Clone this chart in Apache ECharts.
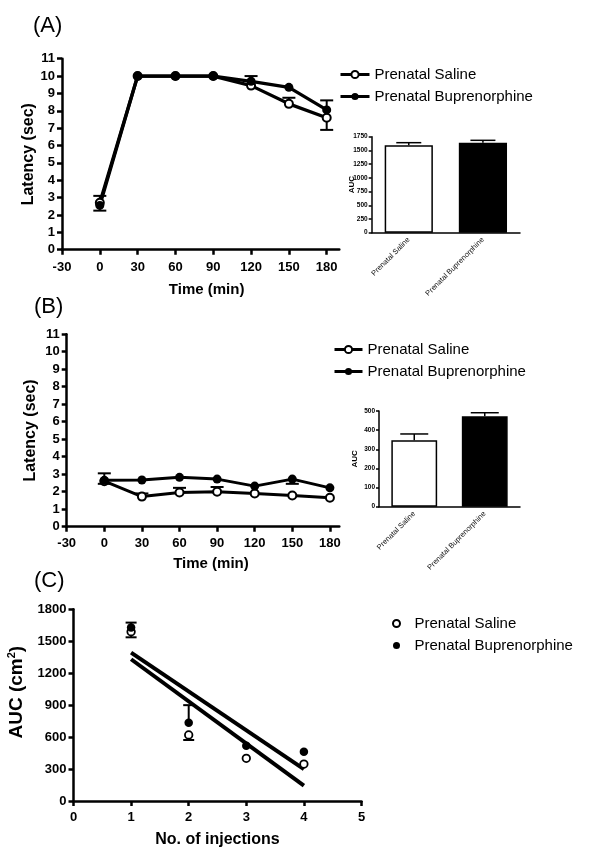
<!DOCTYPE html>
<html><head><meta charset="utf-8">
<script src="https://cdn.jsdelivr.net/npm/echarts@6/dist/echarts.min.js"></script>
<style>html,body{margin:0;padding:0;background:#fff}#c{width:600px;height:857px}</style>
</head><body><div id="c"></div>
<script>
// ---------- data ----------
const seriesNames = ['Prenatal Saline', 'Prenatal Buprenorphine'];
const timePoints = [0, 30, 60, 90, 120, 150, 180];
const timeTicks = [-30, 0, 30, 60, 90, 120, 150, 180];
const aSaline = [2.7, 10, 10, 10, 9.45, 8.4, 7.6];
const aSalineErrEnd = [3.1, null, null, null, null, 8.75, 6.9];
const aBup = [2.55, 10, 10, 10, 9.7, 9.35, 8.05];
const aBupErrEnd = [2.25, null, null, null, 10.0, null, 8.6];
const aucCats = ['Prenatal Saline', 'Prenatal Buprenorphine'];
const aAuc = [1593, 1641];
const aAucErrEnd = [1641, 1684];
const bSaline = [2.6, 1.72, 1.95, 2.0, 1.9, 1.78, 1.65];
const bSalineErrEnd = [3.05, 1.9, 2.22, 2.27, null, null, null];
const bBup = [2.65, 2.67, 2.82, 2.72, 2.32, 2.72, 2.22];
const bBupErrEnd = [2.45, null, null, null, null, 2.45, null];
const bAuc = [347, 472];
const bAucErrEnd = [380, 491];
const injections = [1, 2, 3, 4];
const injTicks = [0, 1, 2, 3, 4, 5];
const cSaline = [1590, 620, 401, 347];
const cSalineErrEnd = [1537, 573, null, null];
const cBup = [1630, 735, 519, 463];
const cBupErrEnd = [1675, 900, null, null];
const fitX = [1, 4];
const cSalineFit = [1331, 145];
const cBupFit = [1393, 300];

// ---------- helpers ----------
const FONT = '"Liberation Sans", Arial, Helvetica, sans-serif';
const plain = v => String(v);
const pairs = (xs, ys) => xs.map((x, i) => [x, ys[i]]);
const errData = (xs, ys, ends) => xs.map((x, i) => ends[i] == null ? null : [x, ys[i], ends[i]]).filter(Boolean);

function errSeries(xi, yi, data, cap, lw) {
  return {
    type: 'custom', xAxisIndex: xi, yAxisIndex: yi, data: data, silent: true, z: 1,
    renderItem: function (params, api) {
      const x = api.value(0), y = api.value(1), e = api.value(2);
      const p0 = api.coord([x, y]), p1 = api.coord([x, e]);
      const st = { stroke: '#000', lineWidth: lw };
      return { type: 'group', children: [
        { type: 'line', shape: { x1: p0[0], y1: p0[1], x2: p1[0], y2: p1[1] }, style: st },
        { type: 'line', shape: { x1: p1[0] - cap, y1: p1[1], x2: p1[0] + cap, y2: p1[1] }, style: st }
      ]};
    }
  };
}

function mainAxisBase(fs) {
  return {
    axisLine: { show: true, onZero: false, lineStyle: { color: '#000', width: 2.5 } },
    axisTick: { show: true, length: 5, lineStyle: { color: '#000', width: 2.5 } },
    splitLine: { show: false },
    axisLabel: { color: '#000', fontFamily: FONT, fontWeight: 'bold', fontSize: fs, formatter: plain },
    nameLocation: 'middle',
    nameMoveOverlap: false,
    nameTextStyle: { color: '#000', fontFamily: FONT, fontWeight: 'bold', fontSize: 16 }
  };
}
function insetAxisBase() {
  return {
    axisLine: { show: true, onZero: false, lineStyle: { color: '#000', width: 1.5 } },
    axisTick: { show: true, length: 3, lineStyle: { color: '#000', width: 1.5 } },
    splitLine: { show: false },
    axisLabel: { color: '#000', fontFamily: FONT, fontWeight: 'bold', fontSize: 6.5, margin: 4, formatter: plain },
    nameLocation: 'middle',
    nameMoveOverlap: false,
    nameTextStyle: { color: '#000', fontFamily: FONT, fontWeight: 'bold', fontSize: 8 }
  };
}

const openCircle = { color: '#fff', borderColor: '#000', borderWidth: 2, opacity: 1 };
const filledCircle = { color: '#000', borderColor: '#000', borderWidth: 0, opacity: 1 };

function lineSeries(name, xi, yi, data, open, lw) {
  return {
    type: 'line', name: name, xAxisIndex: xi, yAxisIndex: yi, data: data,
    symbol: 'circle', symbolSize: open ? 8 : 9, showSymbol: true, z: 3,
    lineStyle: { color: '#000', width: lw },
    itemStyle: open ? openCircle : filledCircle,
    emphasis: { disabled: true }, animation: false
  };
}
function barSeries(xi, yi, vals) {
  return {
    type: 'bar', name: 'auc' + xi, xAxisIndex: xi, yAxisIndex: yi, barWidth: '65%', z: 2,
    data: vals.map((v, i) => ({ value: v, itemStyle: { color: i === 0 ? '#fff' : '#000', borderColor: '#000', borderWidth: 1.5 } })),
    emphasis: { disabled: true }
  };
}

const insetXLabel = { rotate: 45, interval: 0, fontSize: 7.5, fontWeight: 'normal', margin: 6, color: '#111', fontFamily: FONT };

const option = {
  animation: false,
  backgroundColor: '#fff',
  grid: [
    { left: 62, top: 58.7, width: 277.3, height: 191, outerBoundsMode: 'none' },
    { left: 371.7, top: 136.7, width: 148.3, height: 96, outerBoundsMode: 'none' },
    { left: 66.7, top: 334.2, width: 272.6, height: 192.5, outerBoundsMode: 'none' },
    { left: 379, top: 411, width: 141, height: 95.7, outerBoundsMode: 'none' },
    { left: 73.5, top: 609.3, width: 288, height: 191.7, outerBoundsMode: 'none' }
  ],
  xAxis: [
    Object.assign(mainAxisBase(13), { type: 'value', gridIndex: 0, min: -30, max: 190, interval: 30,
      name: 'Time (min)', nameGap: 33,
      axisLabel: Object.assign(mainAxisBase(13).axisLabel, { margin: 11, customValues: timeTicks }),
      axisTick: Object.assign(mainAxisBase(13).axisTick, { customValues: timeTicks }),
      nameTextStyle: Object.assign(mainAxisBase(13).nameTextStyle, { fontSize: 15, padding: [0, 0, 0, 12] }) }),
    Object.assign(insetAxisBase(), { type: 'category', gridIndex: 1, data: aucCats, boundaryGap: true,
      axisLabel: insetXLabel, axisTick: { alignWithLabel: true, length: 3, lineStyle: { color: '#000', width: 1.5 } } }),
    Object.assign(mainAxisBase(13), { type: 'value', gridIndex: 2, min: -30, max: 187.5, interval: 30,
      name: 'Time (min)', nameGap: 30,
      axisLabel: Object.assign(mainAxisBase(13).axisLabel, { margin: 10, customValues: timeTicks }),
      axisTick: Object.assign(mainAxisBase(13).axisTick, { customValues: timeTicks }),
      nameTextStyle: Object.assign(mainAxisBase(13).nameTextStyle, { fontSize: 15, padding: [0, 0, 0, 16] }) }),
    Object.assign(insetAxisBase(), { type: 'category', gridIndex: 3, data: aucCats, boundaryGap: true,
      axisLabel: insetXLabel, axisTick: { alignWithLabel: true, length: 3, lineStyle: { color: '#000', width: 1.5 } } }),
    Object.assign(mainAxisBase(13), { type: 'value', gridIndex: 4, min: 0, max: 5, interval: 1,
      name: 'No. of injections', nameGap: 31,
      axisLabel: Object.assign(mainAxisBase(13).axisLabel, { margin: 10, customValues: injTicks }) })
  ],
  yAxis: [
    Object.assign(mainAxisBase(13), { type: 'value', gridIndex: 0, min: 0, max: 11, interval: 1,
      name: 'Latency (sec)', nameGap: 25,
      axisLabel: Object.assign(mainAxisBase(13).axisLabel, { margin: 7 }) }),
    Object.assign(insetAxisBase(), { type: 'value', gridIndex: 1, min: 0, max: 1750, interval: 250,
      name: 'AUC', nameGap: 16 }),
    Object.assign(mainAxisBase(13), { type: 'value', gridIndex: 2, min: 0, max: 11, interval: 1,
      name: 'Latency (sec)', nameGap: 28,
      axisLabel: Object.assign(mainAxisBase(13).axisLabel, { margin: 7 }) }),
    Object.assign(insetAxisBase(), { type: 'value', gridIndex: 3, min: 0, max: 500, interval: 100,
      name: 'AUC', nameGap: 20 }),
    Object.assign(mainAxisBase(13), { type: 'value', gridIndex: 4, min: 0, max: 1800, interval: 300,
      name: 'AUC (cm{sup|2})', nameGap: 47,
      nameTextStyle: { color: '#000', fontFamily: FONT, fontWeight: 'bold', fontSize: 19, lineHeight: 20,
        padding: [0, 0, 0, 26],
        rich: { sup: { color: '#000', fontFamily: FONT, fontWeight: 'bold', fontSize: 11, lineHeight: 20, verticalAlign: 'top' } } },
      axisLabel: Object.assign(mainAxisBase(13).axisLabel, { margin: 7 }) })
  ],
  legend: [
    { orient: 'vertical', left: 339, top: 67, padding: 0, itemWidth: 29, itemHeight: 9, itemGap: 7, selectedMode: false,
      textStyle: { fontFamily: FONT, fontSize: 15, color: '#000' }, lineStyle: { width: 3 }, data: seriesNames },
    { orient: 'vertical', left: 333, top: 342, padding: 0, itemWidth: 28, itemHeight: 9, itemGap: 7, selectedMode: false,
      textStyle: { fontFamily: FONT, fontSize: 15, color: '#000' }, lineStyle: { width: 3 }, data: seriesNames },
    { orient: 'vertical', left: 392, top: 616, padding: 0, itemWidth: 26, itemHeight: 7, itemGap: 7, selectedMode: false,
      textStyle: { fontFamily: FONT, fontSize: 15, color: '#000' },
      data: seriesNames.map(n => ({ name: n, icon: 'circle' })) }
  ],
  graphic: [
    { type: 'text', x: 33, y: 25.5, style: { text: '(A)', font: '22px ' + FONT, fill: '#000', verticalAlign: 'middle' } },
    { type: 'text', x: 34, y: 307, style: { text: '(B)', font: '22px ' + FONT, fill: '#000', verticalAlign: 'middle' } },
    { type: 'text', x: 34, y: 581, style: { text: '(C)', font: '22px ' + FONT, fill: '#000', verticalAlign: 'middle' } }
  ],
  series: [
    // Panel A
    errSeries(0, 0, errData(timePoints, aSaline, aSalineErrEnd), 6.5, 2),
    errSeries(0, 0, errData(timePoints, aBup, aBupErrEnd), 6.5, 2),
    lineSeries(seriesNames[0], 0, 0, pairs(timePoints, aSaline), true, 3.3),
    lineSeries(seriesNames[1], 0, 0, pairs(timePoints, aBup), false, 3.3),
    barSeries(1, 1, aAuc),
    errSeries(1, 1, errData([0, 1], aAuc, aAucErrEnd), 12.5, 1.5),
    // Panel B
    errSeries(2, 2, errData(timePoints, bSaline, bSalineErrEnd), 6.5, 2),
    errSeries(2, 2, errData(timePoints, bBup, bBupErrEnd), 6.5, 2),
    lineSeries(seriesNames[0], 2, 2, pairs(timePoints, bSaline), true, 3),
    lineSeries(seriesNames[1], 2, 2, pairs(timePoints, bBup), false, 3),
    barSeries(3, 3, bAuc),
    errSeries(3, 3, errData([0, 1], bAuc, bAucErrEnd), 14, 1.5),
    // Panel C
    errSeries(4, 4, errData(injections, cSaline, cSalineErrEnd), 5.5, 2),
    errSeries(4, 4, errData(injections, cBup, cBupErrEnd), 5.5, 2),
    { type: 'line', name: 'fitSal', xAxisIndex: 4, yAxisIndex: 4, data: pairs(fitX, cSalineFit), symbol: 'none',
      lineStyle: { color: '#000', width: 4 }, z: 2, emphasis: { disabled: true } },
    { type: 'line', name: 'fitBup', xAxisIndex: 4, yAxisIndex: 4, data: pairs(fitX, cBupFit), symbol: 'none',
      lineStyle: { color: '#000', width: 4 }, z: 2, emphasis: { disabled: true } },
    { type: 'scatter', name: seriesNames[0], xAxisIndex: 4, yAxisIndex: 4, data: pairs(injections, cSaline),
      symbol: 'circle', symbolSize: 7.5, itemStyle: { color: '#fff', borderColor: '#000', borderWidth: 1.8, opacity: 1 }, z: 3, emphasis: { disabled: true } },
    { type: 'scatter', name: seriesNames[1], xAxisIndex: 4, yAxisIndex: 4, data: pairs(injections, cBup),
      symbol: 'circle', symbolSize: 8.5, itemStyle: { color: '#000', opacity: 1 }, z: 3, emphasis: { disabled: true } }
  ]
};

const chart = echarts.init(document.getElementById('c'), null, { renderer: 'canvas' });
chart.setOption(option);
</script>
</body></html>
